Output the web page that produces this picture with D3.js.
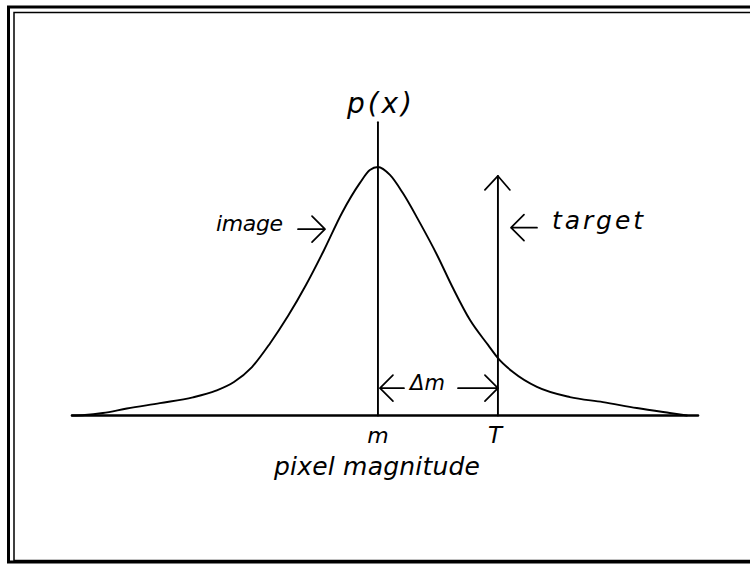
<!DOCTYPE html>
<html>
<head>
<meta charset="utf-8">
<script src="https://cdn.jsdelivr.net/npm/d3@7"></script>
<style>
  html, body { margin: 0; padding: 0; background: #fff; }
  svg { display: block; }
  text { font-family: "DejaVu Sans", "Liberation Sans", sans-serif; font-style: italic; font-weight: 200; fill: #000; }
</style>
</head>
<body>
<svg id="chart" width="750" height="566"></svg>
<script>
// ---- data (x in units of pixel magnitude offset from mean m; p = relative density) ----
const curveX = [-10.2, -9.77, -9.17, -8.37, -7.27, -6.17, -5.4, -4.8, -4.2, -3.6, -3.0, -2.4, -1.8, -1.2, -0.6, -0.27, 0,
                0.4, 0.83, 1.4, 1.97, 2.5, 3.07, 3.67, 4.0, 4.5, 5.3, 6.4, 7.5, 8.63, 9.73, 10.3];
const curveP = [0.0, 0.002, 0.010, 0.028, 0.050, 0.073, 0.100, 0.135, 0.195, 0.290, 0.400, 0.525, 0.665, 0.815, 0.936, 0.988, 1.0,
                0.968, 0.895, 0.775, 0.646, 0.513, 0.384, 0.284, 0.231, 0.175, 0.115, 0.074, 0.054, 0.030, 0.010, 0.0];
const axisDomain = [-10.2, 10.67];
const meanValue = 0;      // m
const targetValue = 4;    // T
const tickLabels = ["m", "T"];
const axisTitle = "pixel magnitude";
const yTitle = "p(x)";
const curveLabel = "image";
const targetLabel = "target";
const deltaLabel = "\u0394m";

// ---- layout ----
const svg = d3.select("#chart");
const x = d3.scaleLinear().domain(axisDomain).range([72, 698]);
const y = d3.scaleLinear().domain([0, 1]).range([415.5, 167]);

// frame
svg.append("rect").attr("x", 8.5).attr("y", 7).attr("width", 760).attr("height", 555)
  .attr("fill", "none").attr("stroke", "#000").attr("stroke-width", 3);
svg.append("rect").attr("x", 14).attr("y", 12.5).attr("width", 760).attr("height", 548)
  .attr("fill", "none").attr("stroke", "#000").attr("stroke-width", 1.5);

const ink = g => g.attr("fill", "none").attr("stroke", "#000").attr("stroke-linecap", "round").attr("stroke-linejoin", "round");

// baseline
svg.append("line").call(ink).attr("x1", x(axisDomain[0])).attr("x2", x(axisDomain[1]))
  .attr("y1", y(0)).attr("y2", y(0)).attr("stroke-width", 2.6);

// curve
const pts = curveX.map((v, i) => [v, curveP[i]]);
svg.append("path").datum(pts).call(ink).attr("stroke-width", 1.9)
  .attr("d", d3.line().x(d => x(d[0])).y(d => y(d[1])).curve(d3.curveMonotoneX));

// m vertical line
svg.append("line").call(ink).attr("stroke-width", 1.9)
  .attr("x1", x(meanValue)).attr("x2", x(meanValue)).attr("y1", y(1.18)).attr("y2", y(0));

// T target arrow
const tx = x(targetValue), tipY = y(0.964);
svg.append("line").call(ink).attr("stroke-width", 1.9)
  .attr("x1", tx).attr("x2", tx).attr("y1", tipY).attr("y2", y(0));
svg.append("path").call(ink).attr("stroke-width", 1.7)
  .attr("d", `M${tx - 13},${tipY + 14}L${tx},${tipY}L${tx + 12},${tipY + 14}`);

// horizontal arrow helper: from (x1) to tip (x2) at py
function hArrow(x1, x2, py) {
  const dir = Math.sign(x2 - x1);
  svg.append("path").call(ink).attr("stroke-width", 1.7)
    .attr("d", `M${x1},${py}L${x2},${py}M${x2 - dir * 13},${py - 13}L${x2},${py}L${x2 - dir * 13},${py + 13}`);
}
hArrow(298, 325, y(0.75));          // image arrow
hArrow(537, 511, y(0.756));         // target arrow
const dy = y(0.11);
hArrow(404, x(meanValue) + 2, dy);  // delta m, left
hArrow(458, tx, dy);                // delta m, right

// texts
function label(txt, px, py, size, width, anchor) {
  const t = svg.append("text").attr("x", px).attr("y", py).attr("font-size", size)
    .attr("text-anchor", anchor || "start").text(txt);
  if (width) t.attr("textLength", width).attr("lengthAdjust", "spacing");
  return t;
}
label(yTitle, 347, 113, 28, 65);
label(curveLabel, 216, 231, 22, 67);
label(targetLabel, 552, 229, 25, 91);
label(deltaLabel, 410, 390, 21, 35);
label(tickLabels[0], x(meanValue), 443, 22, null, "middle");
label(tickLabels[1], tx - 3, 443, 23, null, "middle");
label(axisTitle, 274, 475, 25, 206);
</script>
</body>
</html>
